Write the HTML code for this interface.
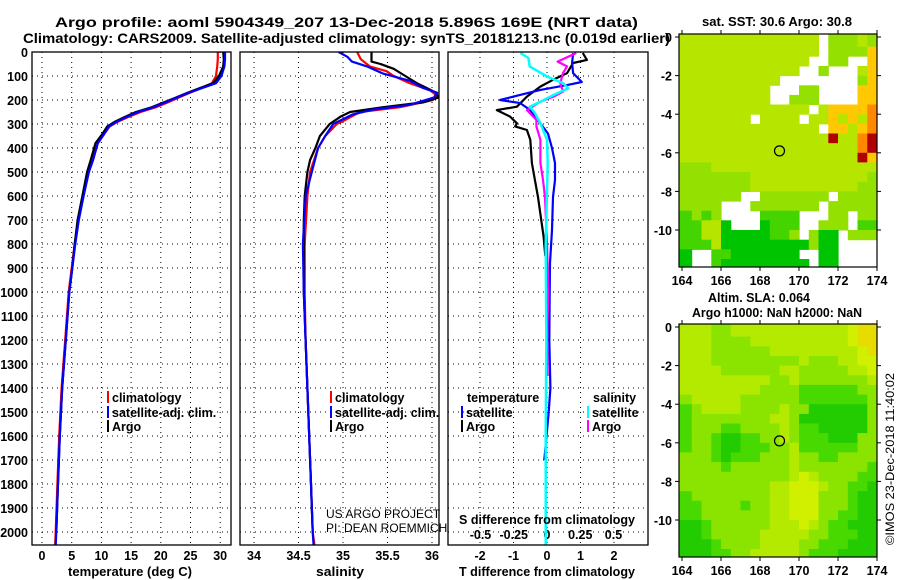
<!DOCTYPE html>
<html><head><meta charset="utf-8"><style>
html,body{margin:0;padding:0;background:#fff;}
svg{display:block;font-family:"Liberation Sans",Arial,sans-serif;}
.b{font-weight:bold;font-size:12.5px;}
.t{font-weight:bold;font-size:14px;}
.n{font-size:12px;}
</style></head><body>
<svg id="chart" width="900" height="580" viewBox="0 0 900 580" xmlns="http://www.w3.org/2000/svg">
<defs>
<clipPath id="c1"><rect x="32" y="52" width="199" height="493"/></clipPath>
<clipPath id="c2"><rect x="240" y="52" width="199" height="493"/></clipPath>
<clipPath id="c3"><rect x="448" y="52" width="200" height="493"/></clipPath>
<clipPath id="cm1"><rect x="679" y="34" width="198" height="233"/></clipPath>
<clipPath id="cm2"><rect x="679" y="324" width="198" height="233"/></clipPath>
</defs>
<text class="t" x="55" y="27" textLength="583" lengthAdjust="spacingAndGlyphs">Argo profile: aoml 5904349_207 13-Dec-2018 5.896S 169E (NRT data)</text>
<text class="t" x="23" y="43" textLength="647" lengthAdjust="spacingAndGlyphs">Climatology: CARS2009. Satellite-adjusted climatology: synTS_20181213.nc (0.019d earlier)</text>
<text class="b" x="702" y="26" textLength="150" lengthAdjust="spacingAndGlyphs">sat. SST: 30.6 Argo: 30.8</text>
<text class="b" x="708" y="302" textLength="102" lengthAdjust="spacingAndGlyphs">Altim. SLA: 0.064</text>
<text class="b" x="692" y="317" textLength="170" lengthAdjust="spacingAndGlyphs">Argo h1000: NaN h2000: NaN</text>
<text class="n" transform="translate(894,545) rotate(-90)" textLength="172" lengthAdjust="spacingAndGlyphs">©IMOS 23-Dec-2018 11:40:02</text>
<g id="g"></g>
</svg>
<script>
const argoTDepth=[0,30,60,100,130,150,170,190,210,230,250,270,290,310,340,380,450,500,600,700,800,900,1000,1200,1400,1600,1800,2000];
const argoT=[30.5,30.6,30.5,29.8,28.8,26.6,24.5,22.5,20.5,18.5,15.8,14.0,12.3,11.0,10.2,9.0,8.2,7.6,6.8,6.0,5.5,5.1,4.6,4.0,3.4,3.0,2.7,2.4];
const climTDepth=[0,30,60,100,130,150,170,190,210,230,250,270,290,310,340,380,450,500,600,700,800,900,1000,1200,1400,1600,1800,2000,2055];
const climT=[29.6,29.6,29.5,29.3,28.6,26.8,24.9,23.0,21.2,19.2,16.6,14.6,12.8,11.4,10.5,9.4,8.5,7.8,6.9,6.1,5.5,5.0,4.5,3.9,3.3,2.9,2.6,2.3,2.2];
const satT=[30.8,30.8,30.7,30.2,29.3,27.0,24.7,22.7,20.8,18.8,16.2,14.3,12.6,11.3,10.5,9.4,8.6,7.9,7.0,6.2,5.6,5.1,4.6,4.0,3.4,3.0,2.7,2.4,2.3];
const argoSDepth=[0,40,50,70,100,130,150,170,190,210,230,250,270,300,350,400,450,500,600,700,1000,1200,1400,1600,1800,2000];
const argoS=[35.32,35.32,35.42,35.57,35.70,35.83,35.94,36.05,36.07,35.90,35.45,35.08,34.97,34.85,34.74,34.69,34.63,34.60,34.57,34.56,34.56,34.58,34.60,34.62,34.64,34.66];
const climSDepth=[0,30,60,80,100,130,160,180,200,230,250,280,300,350,400,500,600,800,1000,1200,1400,1600,1800,2000,2055];
const climS=[35.16,35.20,35.30,35.49,35.57,35.75,35.98,36.05,36.01,35.64,35.19,35.04,34.93,34.80,34.72,34.63,34.60,34.57,34.57,34.58,34.60,34.62,34.64,34.66,34.68];
const satSDepth=[0,20,40,60,90,120,150,170,190,220,240,260,300,350,400,500,600,800,1000,1200,1400,1600,1800,2000,2055];
const satS=[34.95,35.05,35.10,35.27,35.45,35.75,35.90,36.06,36.02,35.75,35.34,35.11,34.89,34.80,34.72,34.65,34.58,34.55,34.56,34.58,34.60,34.62,34.64,34.66,34.67];
const dTargoDepth=[4,33,46,88,116,144,186,228,242,269,297,310,325,366,463,533,604,672,769,850];
const dTargo=[1.07,1.19,0.78,0.6,0.18,-0.2,-0.6,-0.9,-1.5,-1.1,-0.9,-0.95,-0.6,-0.5,-0.45,-0.36,-0.27,-0.2,-0.1,-0.05];
const dTsatDepth=[4,46,88,125,138,158,186,200,213,242,297,340,400,463,533,604,742,879,1000,1200,1400,1500,1700];
const dTsat=[0.78,0.75,0.78,1.04,0.6,-0.2,-1.0,-1.4,-0.8,-0.5,-0.2,0.03,0.15,0.24,0.24,0.18,0.15,0.09,0.08,0.07,0.1,0.05,-0.08];
const dSargoDepth=[4,40,60,88,130,165,186,207,242,283,310,366,463,533,604,800,1000,1200,1350];
const dSargo=[0.22,0.08,0.15,0.12,0.10,0.12,0.05,-0.05,-0.15,-0.08,-0.08,-0.05,-0.05,-0.03,-0.015,0.0,0.01,0.0,0.005];
const dSsatDepth=[4,25,60,102,130,151,179,207,228,255,297,366,463,800,1200,1600,2055];
const dSsat=[-0.2,-0.14,-0.13,0.0,0.12,0.16,0.05,-0.05,-0.13,-0.09,-0.05,0.0,0.005,-0.01,-0.005,-0.01,-0.01];
const depthTicks=[0,100,200,300,400,500,600,700,800,900,1000,1100,1200,1300,1400,1500,1600,1700,1800,1900,2000];
const tempTicks=[0,5,10,15,20,25,30];
const salTicks=[34,34.5,35,35.5,36];
const salTickLabels=["34","34.5","35","35.5","36"];
const dTTicks=[-2,-1,0,1,2];
const dSTicks=[-0.5,-0.25,0,0.25,0.5];
const dSTickLabels=["-0.5","-0.25","0","0.25","0.5"];
const latTicks=[0,-2,-4,-6,-8,-10];
const lonTicks=[164,166,168,170,172,174];
const sstRows=["yyyyyyyyyyyyyy.lllyl","yyyyyyyyyyyyyy.llllo","yyyyyyyyyyyyy..ll..o","yyyyyyyyyyyy..l...yo","yyyyyyyyyy........lo","yyyyyyyyy...ll....oo","yyyyyyyyy..lll....oo","yyyyyyyyyyyyy.yoooor","yyyyyyy.yyyy.yyoyoyr","yyyyyyyyyyyyyy.ooyor","yyyyyyyyyyyyyyyRyyrR","yyyyyyyyyyyyyyyyyyrR","yyyyyyyyyyyyyyyyyyRo","lllyyyyyyyyyyyyyyyyy","lllllllyyyyyyyyyyyyl","lllllllyyyyyyyyyyyll","llllll..lllllll.llll","llll...lllllll.lllll","GlGl....GGGG...ll.ll","GGyyg...gGGG..lll.GG","GGyygggggGGl.lgg.lll","GGGyggggggggglgg....","g..GGggggggg..gg....","g..Gggggggggg.gg...."];
const slaRows=["yyyllyyyyyyyyyyyyYoo","yyyllllyyyyyyyyyyYoo","yyyllllllyyyyyyyyyYo","yyylllllllllylllyyYY","yyyyllllllyylllllyyY","yyyyyyyyyllyllllllly","yyyyyyyyllllGGGGGGll","lyyyyyllllllGGGGGGGl","Glyyyyllllyllggggggl","Gllllllllyylgggggggl","GlllGGllllylGGgggggl","GllGggGGllylGGGgggll","GllGggGGGllyGGGGGGll","lllGgGGGlllyllGGllll","llllGllllllylllllllG","lllllllllllyYyllllGG","lllllllllyyYYYyllGGg","GllllllllyyYYYlllGgg","GGllllGllyyYYYlllGgg","GGlllllllyyYYYllGGgg","ggGllllllyyyYylGGggg","ggGlllllyyyyyllGGGgg","gggGllllyyyyllGGGggg","gggGGllyyyyylGGGgggg"];
const sstColors={y:"#b6e600",Y:"#d2ea00",l:"#94e000",G:"#44d400",g:"#00c400",o:"#ffc800",r:"#ff8800",R:"#b00000"};
const slaColors={y:"#b4ea00",Y:"#d0f000",o:"#e6dc00",l:"#8ae400",G:"#48da00",g:"#22cc00"};
const argoLon=169.0, argoLat=-5.9;

const NS="http://www.w3.org/2000/svg";
const G=document.getElementById('g');
function el(tag,attrs,parent){const e=document.createElementNS(NS,tag);for(const k in attrs)e.setAttribute(k,attrs[k]);(parent||G).appendChild(e);return e;}
function txt(s,x,y,cls,anchor,parent){const e=el('text',{x:x,y:y,class:cls,'text-anchor':anchor||'start'},parent);e.textContent=s;return e;}
const yD=d=>52+d*0.24;
const xT=t=>42+t*5.94;
const xS=s=>254+(s-34)*89;
const xDT=v=>547+33.5*v;
const xDS=v=>547+133*v;
const panels=[[32,231],[240,439],[448,648]];
panels.forEach((p,i)=>{
  depthTicks.forEach(d=>{const l=el('line',{x1:p[0],x2:p[1],y1:yD(d),y2:yD(d),stroke:'#000','stroke-width':1,'stroke-dasharray':'1,4'});
    
    });
});
tempTicks.forEach(t=>{const l=el('line',{x1:xT(t),x2:xT(t),y1:52,y2:545,stroke:'#000','stroke-dasharray':'1,4'});
  
  
  const tl=txt(String(t),xT(t),560,'b','middle');
  
  });
salTicks.forEach((s,i)=>{const l=el('line',{x1:xS(s),x2:xS(s),y1:52,y2:545,stroke:'#000','stroke-dasharray':'1,4'});
  
  
  const tl=txt(salTickLabels[i],xS(s),560,'b','middle');
  
  });
dTTicks.forEach(v=>{const l=el('line',{x1:xDT(v),x2:xDT(v),y1:52,y2:545,stroke:'#000','stroke-dasharray':'1,4'});
  
  
  const tl=txt(String(v),xDT(v),560,'b','middle');
  
  });
dSTicks.forEach((v,i)=>{const tl=txt(dSTickLabels[i],xDS(v),539,'b','middle');
  
  });
depthTicks.forEach(d=>{const tl=txt(String(d),28,yD(d)+5,'b','end');
  
  });
function series(xs,ds,fx,color,w,clip,name){
  const pts=xs.map((v,i)=>fx(v).toFixed(1)+','+yD(ds[i]).toFixed(1)).join(' ');
  const p=el('polyline',{points:pts,fill:'none',stroke:color,'stroke-width':w,'clip-path':'url(#'+clip+')','stroke-linejoin':'round'});
  
  
}
series(climT,climTDepth,xT,'#ff0000',2.2,'c1','temp-climatology-line');
series(argoT,argoTDepth,xT,'#000',2.2,'c1','temp-argo-line');
series(satT,climTDepth,xT,'#0000ff',2.2,'c1','temp-satellite-line');
series(climS,climSDepth,xS,'#ff0000',2.2,'c2','salinity-climatology-line');
series(argoS,argoSDepth,xS,'#000',2.2,'c2','salinity-argo-line');
series(satS,satSDepth,xS,'#0000ff',2.2,'c2','salinity-satellite-line');
series(dTargo,dTargoDepth,xDT,'#000',2.2,'c3','tdiff-argo-line');
series(dTsat,dTsatDepth,xDT,'#0000ff',2.2,'c3','tdiff-satellite-line');
series(dSargo,dSargoDepth,xDS,'#ff00ff',2.2,'c3','sdiff-argo-line');
series(dSsat,dSsatDepth,xDS,'#00ffff',2.5,'c3','sdiff-satellite-line');
panels.forEach((p,i)=>{const r=el('rect',{x:p[0],y:52,width:p[1]-p[0],height:493,fill:'none',stroke:'#000','stroke-width':1.3});
  
  });
[['temperature (deg C)',130,'temp-axis-title',124],['salinity',340,'salinity-axis-title',48],['T difference from climatology',547,'tdiff-axis-title',176]].forEach(a=>{
  const t=txt(a[0],a[1],576,'b','middle');
  t.setAttribute('textLength',a[3]);
  t.setAttribute('lengthAdjust','spacingAndGlyphs');
  
  });
const sdt=txt('S difference from climatology',547,524,'b','middle');
sdt.setAttribute('textLength','176');
sdt.setAttribute('lengthAdjust','spacingAndGlyphs');


function leg(x,y,color,label,name){
  const r=el('rect',{x:x,y:y-11,width:2,height:12,fill:color});
  
  
  const t=txt(label,x+5,y,'b');
  
  
}
leg(107,402,'#ff0000','climatology','legend-climatology');
leg(107,417,'#0000ff','satellite-adj. clim.','legend-satellite-adj');
leg(107,431,'#000','Argo','legend-argo');
leg(330,402,'#ff0000','climatology','legend2-climatology');
leg(330,417,'#0000ff','satellite-adj. clim.','legend2-satellite-adj');
leg(330,431,'#000','Argo','legend2-argo');
const lt=txt('temperature',467,402,'b');
const ls=txt('salinity',593,402,'b');
leg(461,417,'#0000ff','satellite','legend3-t-satellite');
leg(461,431,'#000','Argo','legend3-t-argo');
leg(587,417,'#00ffff','satellite','legend3-s-satellite');
leg(587,431,'#ff00ff','Argo','legend3-s-argo');
const u1=txt('US ARGO PROJECT',326,518,'n');
const u2=txt('PI: DEAN ROEMMICH',326,532,'n');
const lonX=lon=>682+(lon-164)*19.5;
function drawMap(rows,colors,y0,clip,name){
  const latY=lat=>y0-lat*19.3;
  rows.forEach((row,r)=>{
    for(let c=0;c<row.length;c++){
      const ch=row[c]; if(ch==='.')continue;
      const l0=c===0?163.7:164+0.5*c, l1=c===row.length-1?174.3:164+0.5*(c+1);
      const a0=r===0?0.3:-0.5*r, a1=-0.5*(r+1);
      const x0=lonX(l0),x1=lonX(l1),yy0=latY(a0),yy1=latY(a1);
      const cell=el('rect',{x:x0.toFixed(1),y:yy0.toFixed(1),width:(x1-x0+0.5).toFixed(1),height:(yy1-yy0+0.5).toFixed(1),fill:colors[ch],'clip-path':'url(#'+clip+')'});
      
      
    }
  });
  const fr=el('rect',{x:679,y:y0-3,width:198,height:233,fill:'none',stroke:'#000','stroke-width':1.2});
  
  
  latTicks.forEach(v=>{
    const t=txt(String(v),672,latY(v)+5,'b','end');
    
    
    el('line',{x1:675,x2:679,y1:latY(v),y2:latY(v),stroke:'#000'});
    el('line',{x1:877,x2:881,y1:latY(v),y2:latY(v),stroke:'#000'});
  });
  lonTicks.forEach(v=>{
    const t=txt(String(v),lonX(v),y0+248,'b','middle');
    
    
    el('line',{x1:lonX(v),x2:lonX(v),y1:y0-7,y2:y0-3,stroke:'#000'});
    el('line',{x1:lonX(v),x2:lonX(v),y1:y0+230,y2:y0+234,stroke:'#000'});
  });
  const m=el('circle',{cx:lonX(argoLon),cy:latY(argoLat),r:5,fill:'none',stroke:'#000','stroke-width':1.2});
  
  
}
drawMap(sstRows,sstColors,37,'cm1','sst-map');
drawMap(slaRows,slaColors,327,'cm2','sla-map');
</script>
</body></html>
